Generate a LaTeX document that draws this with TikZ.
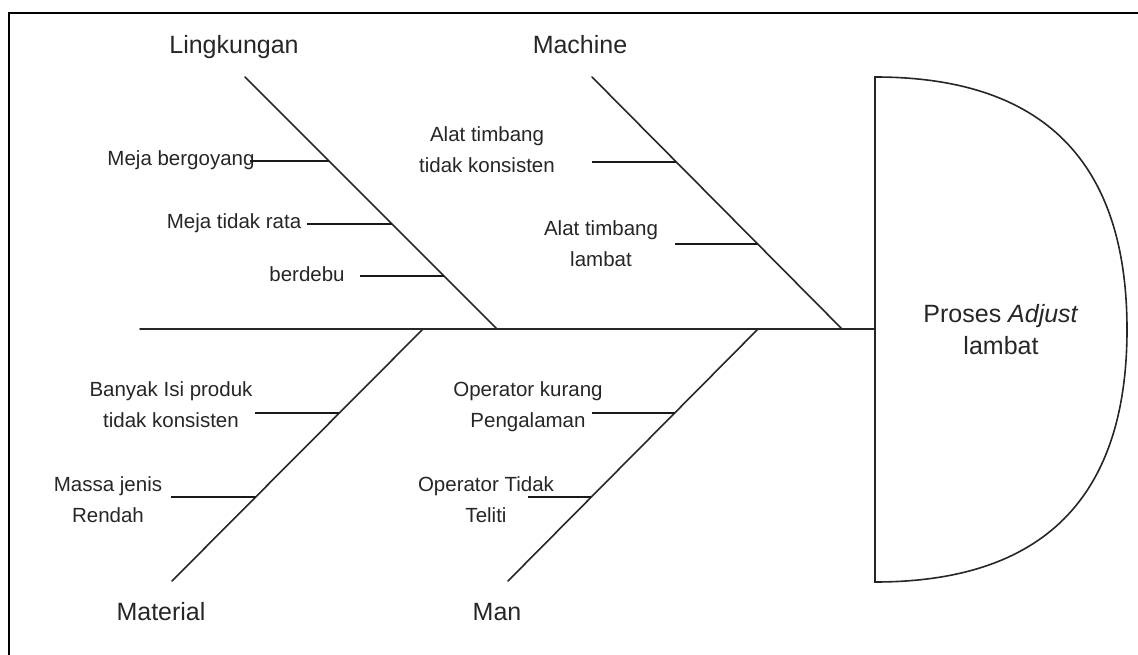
\documentclass[tikz,border=0pt]{standalone}
\usepackage{fontspec}
\setmainfont{Liberation Sans}
\begin{document}
\begin{tikzpicture}[x=1pt,y=-1pt,
  bone/.style={line width=1.6pt, draw=black!85, line cap=round},
  twig/.style={line width=1.5pt, draw=black!90},
  frameline/.style={line width=2.5pt, draw=black},
  cause/.style={font=\fontsize{20.5}{31}\selectfont, align=center, inner sep=0pt, text=black!85},
  category/.style={font=\fontsize{25}{30}\selectfont, inner sep=0pt, text=black!85},
  effecttext/.style={font=\fontsize{25}{32}\selectfont, align=center, inner sep=0pt, text=black!85},
]
\useasboundingbox (0,0) rectangle (1138,655);

% outer frame (top and left edges)
\coordinate (fbl) at (9,655);
\coordinate (ftl) at (9,13);
\coordinate (ftr) at (1138,13);
\draw[frameline] (fbl) -- (ftl) -- (ftr);

% head of the fish
\coordinate (htop) at (875,77);
\coordinate (hbot) at (875,582);
\coordinate (hright) at (1127,329.5);
\draw[bone] (htop) .. controls (1043,77) and (1127,161.2) .. (hright)
            .. controls (1127,497.8) and (1043,582) .. (hbot) -- cycle;
\node[effecttext] (effect) at (1001,331.6) {\strut Proses \textit{Adjust}\\\strut lambat};

% spine
\coordinate (tail) at (140,329);
\coordinate (neck) at (875,329);
\draw[bone] (tail) -- (neck);

% main bones
\coordinate (Ltop) at (245,77);  \coordinate (Lbot) at (497,329);
\coordinate (Mtop) at (592,77);  \coordinate (Mbot) at (842,329);
\coordinate (Ttop) at (423,329); \coordinate (Tbot) at (172,581);
\coordinate (Ntop) at (758,329); \coordinate (Nbot) at (508,581);
\draw[bone] (Ltop) -- (Lbot);
\draw[bone] (Mtop) -- (Mbot);
\draw[bone] (Ttop) -- (Tbot);
\draw[bone] (Ntop) -- (Nbot);

% category titles
\node[category] (lingkungan) at (234,48) {\strut Lingkungan};
\node[category] (machine) at (580,48) {\strut Machine};
\node[category] (material) at (161,614) {\strut Material};
\node[category] (man) at (497,614) {\strut Man};

% Lingkungan causes
\node[cause] (l1) at (181,159) {\strut Meja bergoyang};
\node[cause] (l2) at (234,222) {\strut Meja tidak rata};
\node[cause] (l3) at (307,275) {\strut berdebu};
\coordinate (l1a) at (250,161); \coordinate (l1b) at (329,161);
\coordinate (l2a) at (307,224); \coordinate (l2b) at (392,224);
\coordinate (l3a) at (360,276); \coordinate (l3b) at (444,276);
\draw[twig] (l1a) -- (l1b);
\draw[twig] (l2a) -- (l2b);
\draw[twig] (l3a) -- (l3b);

% Machine causes
\node[cause] (m1) at (487,150.6) {\strut Alat timbang\\\strut tidak konsisten};
\node[cause] (m2) at (601,245) {\strut Alat timbang\\\strut lambat};
\coordinate (m1a) at (592,162); \coordinate (m1b) at (676,162);
\coordinate (m2a) at (675,244); \coordinate (m2b) at (758,244);
\draw[twig] (m1a) -- (m1b);
\draw[twig] (m2a) -- (m2b);

% Material causes
\node[cause] (t1) at (171,406) {\strut Banyak Isi produk\\\strut tidak konsisten};
\node[cause] (t2) at (108,500.6) {\strut Massa jenis\\\strut Rendah};
\coordinate (t1a) at (255,413); \coordinate (t1b) at (339,413);
\coordinate (t2a) at (171,497); \coordinate (t2b) at (256,497);
\draw[twig] (t1a) -- (t1b);
\draw[twig] (t2a) -- (t2b);

% Man causes
\node[cause] (n1) at (528,406) {\strut Operator kurang\\\strut Pengalaman};
\node[cause] (n2) at (486,500.6) {\strut Operator Tidak\\\strut Teliti};
\coordinate (n1a) at (592,413); \coordinate (n1b) at (675,413);
\coordinate (n2a) at (528,497); \coordinate (n2b) at (591,497);
\draw[twig] (n1a) -- (n1b);
\draw[twig] (n2a) -- (n2b);
\end{tikzpicture}
\end{document}
